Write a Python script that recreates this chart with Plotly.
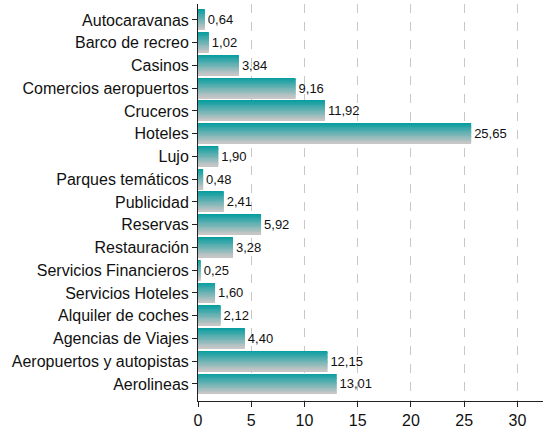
import plotly.graph_objects as go

categories = ["Autocaravanas", "Barco de recreo", "Casinos", "Comercios aeropuertos",
              "Cruceros", "Hoteles", "Lujo", "Parques temáticos", "Publicidad",
              "Reservas", "Restauración", "Servicios Financieros", "Servicios Hoteles",
              "Alquiler de coches", "Agencias de Viajes", "Aeropuertos y autopistas",
              "Aerolineas"]
values = [0.64, 1.02, 3.84, 9.16, 11.92, 25.65, 1.90, 0.48, 2.41, 5.92, 3.28,
          0.25, 1.60, 2.12, 4.40, 12.15, 13.01]
x_ticks = [0, 5, 10, 15, 20, 25, 30]

top_rgb = (10, 157, 160)
bottom_rgb = (198, 198, 198)
BAR_W = 0.87
N = 24

fig = go.Figure()
sw = BAR_W / N
for i in range(N):
    t = i / (N - 1)
    c = tuple(round(top_rgb[k] + (bottom_rgb[k] - top_rgb[k]) * t) for k in range(3))
    fig.add_trace(go.Bar(
        y=categories, x=values, orientation="h",
        width=sw * 1.05, offset=BAR_W / 2 - (i + 1) * sw,
        marker=dict(color="rgb(%d,%d,%d)" % c, line=dict(width=0)),
        showlegend=False, hoverinfo="skip"))

fig.add_trace(go.Bar(
    y=categories, x=values, orientation="h", width=BAR_W,
    marker=dict(color="rgba(0,0,0,0)", line=dict(width=0)),
    texttemplate="%{x:.2f}", textposition="outside", constraintext="none",
    textfont=dict(size=13, color="#111"), cliponaxis=False, showlegend=False))

fig.update_layout(
    width=552, height=428, barmode="overlay", separators=",.",
    margin=dict(l=198, r=9, t=4, b=27, autoexpand=False),
    plot_bgcolor="white", paper_bgcolor="white",
    font=dict(family="Liberation Sans, Arial, sans-serif", color="#111"),
    xaxis=dict(range=[0, 32.4], tickvals=x_ticks, showgrid=True, automargin=False,
               gridcolor="#c8c8c8", griddash="dash", gridwidth=1, zeroline=False,
               showline=True, linecolor="#222", linewidth=1,
               ticks="outside", ticklen=5, tickcolor="#222",
               tickfont=dict(size=16)),
    yaxis=dict(categoryorder="array", categoryarray=categories[::-1], automargin=False,
               range=[-0.75, 16.7], showgrid=False, zeroline=False,
               showline=True, linecolor="#222", linewidth=1,
               ticks="outside", ticklen=5, tickcolor="#222",
               tickfont=dict(size=16)),
)
fig.write_html("out.html", config={"displayModeBar": False},
               post_script="document.body.style.margin='0';")
